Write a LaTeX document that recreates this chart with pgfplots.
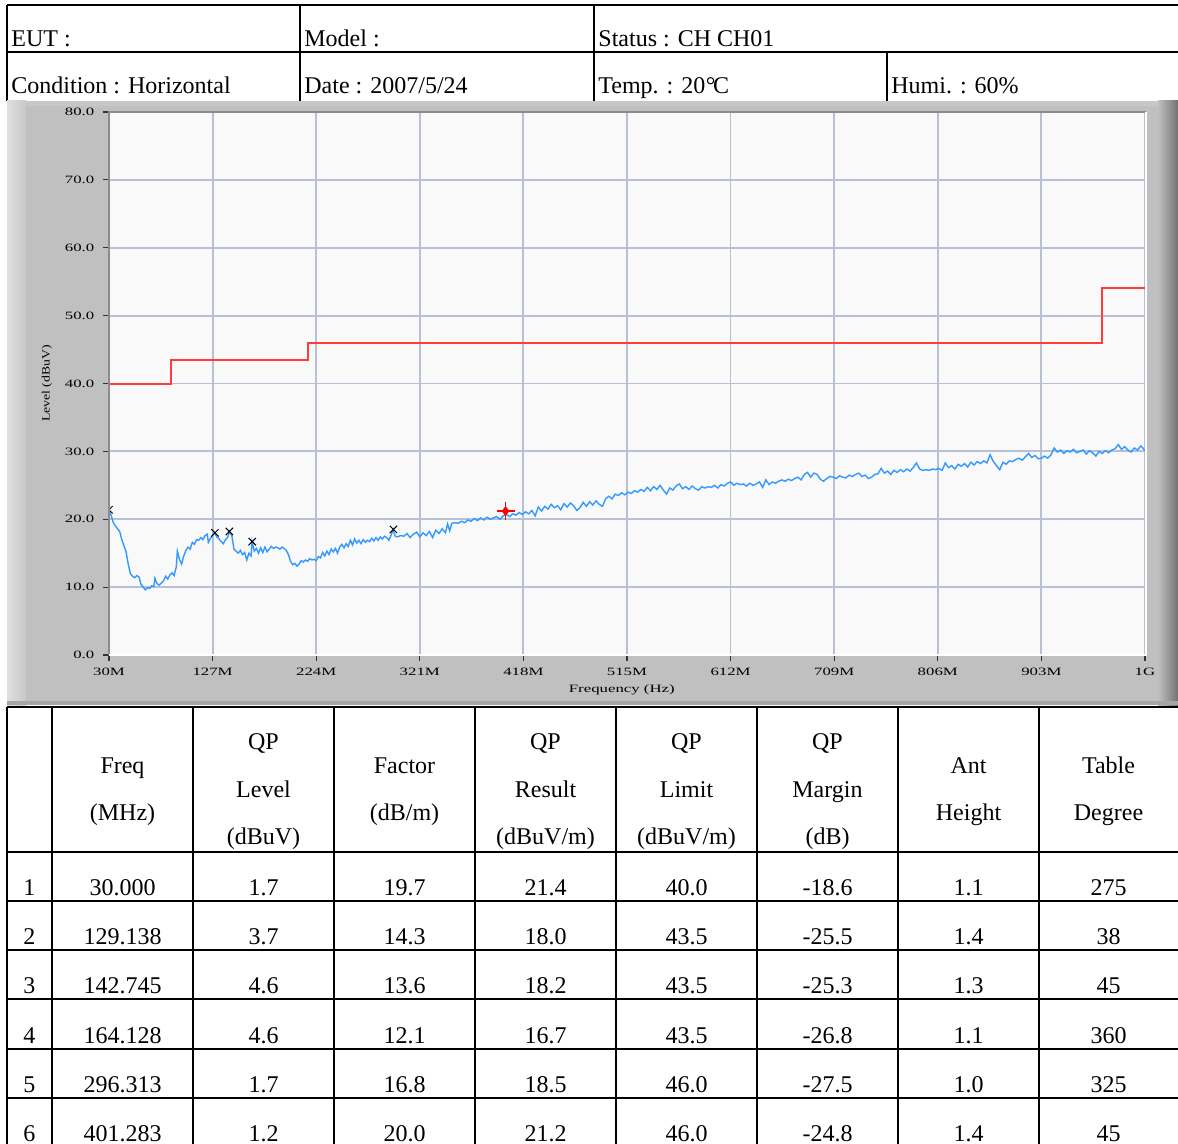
\documentclass[border=0pt]{standalone}
\usepackage{fontspec}
\setmainfont{Liberation Serif}
\newfontfamily\tickfont[FakeStretch=1.5]{Liberation Serif}
\newfontfamily\labfont[FakeStretch=1.23]{Liberation Serif}
\usepackage{pgfplots}
\pgfplotsset{compat=1.18}
\newcommand\tfont{\tickfont\fontsize{5.6}{6.5}\selectfont}
\newcommand\lfont{\labfont\fontsize{5.6}{6.5}\selectfont}
\definecolor{panel}{HTML}{C0C0C0}
\definecolor{plotbg}{HTML}{F9F9F9}
\definecolor{gridc}{HTML}{B8C0D6}
\definecolor{trace}{HTML}{3399FF}
\definecolor{limitc}{HTML}{FF3B3B}
\begin{document}
\begin{tikzpicture}[x=0.5pt,y=0.5pt,font=\fontsize{12}{14}\selectfont]
\useasboundingbox (0,0) rectangle (1178,-1144);
\clip (0,0) rectangle (1178,-1144);
\fill[white] (0,0) rectangle (1178,-1144);
% ---------- header table ----------
\draw[line width=1pt] (7,-5) -- (1178,-5);
\draw[line width=1pt] (7,-52) -- (1178,-52);
\draw[line width=1pt] (7,-5) -- (7,-101);
\draw[line width=1pt] (300,-5) -- (300,-101);
\draw[line width=1pt] (594,-5) -- (594,-101);
\draw[line width=1pt] (887,-52) -- (887,-101);
\node[anchor=base west,inner sep=0] at (11,-47) {EUT :};
\node[anchor=base west,inner sep=0] at (304,-47) {Model :};
\node[anchor=base west,inner sep=0] at (598,-47) {Status : CH CH01};
\node[anchor=base west,inner sep=0] at (11,-94) {Condition : Horizontal};
\node[anchor=base west,inner sep=0] at (304,-94) {Date : 2007/5/24};
\node[anchor=base west,inner sep=0] at (598,-94) {Temp. : 20\kern0.3pt\textdegree\kern-1.2pt C};
\node[anchor=base west,inner sep=0] at (891,-94) {Humi. : 60\%};
% ---------- panel ----------
\fill[panel] (7,-101) rectangle (1178,-705);
\fill[black!22] (7,-101) rectangle (1178,-106);
\shade[left color=black!12, right color=black!22] (7,-101) rectangle (26,-705);
\shade[left color=black!25, right color=black!55] (1158,-101) rectangle (1178,-705);
\fill[black!35] (7,-701) rectangle (1178,-705);
% ---------- chart ----------
\begin{axis}[
  at={(54.5pt,-327.5pt)}, anchor=south west,
  scale only axis, width=518pt, height=271.5pt,
  xmin=30, xmax=1000, ymin=0, ymax=80,
  axis background/.style={fill=plotbg},
  axis line style={draw=none},
  grid=major, major grid style={draw=gridc, line width=0.9pt},
  xtick={30,127,224,321,418,515,612,709,806,903,1000},
  xticklabels={30M,127M,224M,321M,418M,515M,612M,709M,806M,903M,1G},
  ytick={0,10,20,30,40,50,60,70,80},
  yticklabels={0.0,10.0,20.0,30.0,40.0,50.0,60.0,70.0,80.0},
  tick pos=left, tick align=outside, major tick length=3pt,
  tick style={draw=black!80, line width=0.6pt},
  ticklabel style={font=\tfont},
  yticklabel style={xshift=-0.8pt},
  xlabel={Frequency (Hz)}, ylabel={Level (dBuV)},
  xlabel style={font=\tfont, at={(axis description cs:0.495,-0.0645)}, anchor=center},
  ylabel style={font=\lfont, at={(axis description cs:-0.06,0.5)}, anchor=center},
  clip marker paths=true,
]
\addplot[limitc, line width=1pt] coordinates {(30,40)(88,40)(88,43.5)(216,43.5)(216,46)(960,46)(960,54)(1000,54)};
\addplot[trace, line width=0.7pt] table {
30 21.4
32 20.6
34 19.5
36 19.0
38 18.6
40 18.2
42 17.0
44 16.1
46 15.2
48 13.4
50 12.0
52 11.6
54 11.4
56 11.7
58 11.5
60 10.4
62 10.0
64 9.6
66 9.9
68 9.8
70 10.2
72 10.1
73 11.3
75 10.5
77 10.3
79 10.6
81 10.9
83 11.6
85 11.2
87 11.8
89 12.1
91 11.7
93 13.0
94 15.3
96 14.1
98 13.4
100 14.6
102 15.4
104 15.9
106 15.6
108 16.6
110 16.3
112 17.0
114 16.9
116 17.3
118 17.0
120 17.6
122 17.8
123 16.6
125 17.2
127 17.6
129 18.0
131 17.4
133 17.1
135 16.7
137 16.4
139 17.0
141 17.3
143 18.2
145 17.6
147 15.6
149 15.3
151 15.0
153 15.4
155 14.8
157 15.1
159 14.0
161 15.0
163 14.6
164 16.7
166 15.3
168 15.7
170 15.0
172 15.8
174 15.1
176 15.9
178 15.2
180 15.6
182 16.0
184 15.7
186 15.9
188 15.8
190 15.6
192 15.9
194 15.7
196 15.4
198 14.8
200 13.8
202 13.3
204 13.5
206 13.1
208 13.4
210 13.9
212 13.7
214 14.0
216 13.8
218 14.2
220 14.0
222 14.1
224 13.9
226 14.5
228 14.3
230 15.1
232 14.6
234 15.3
236 14.8
238 15.6
240 15.2
242 15.7
244 15.0
246 15.9
248 16.3
250 15.8
252 16.4
254 16.0
256 16.9
258 16.2
260 17.1
262 16.5
264 16.9
266 16.4
268 17.0
270 16.6
272 16.9
274 16.7
276 17.2
278 16.8
280 17.3
282 16.9
284 17.4
286 17.1
288 17.5
290 17.3
292 16.9
294 17.6
296 18.5
298 17.5
300 17.4
303 17.6
306 17.5
309 17.9
312 17.3
315 17.8
318 18.1
321 17.4
324 18.0
327 17.6
330 18.2
333 17.3
336 18.4
339 17.9
342 18.6
345 18.0
347 19.3
349 18.3
351 19.4
354 19.5
357 19.4
360 19.7
363 19.5
366 19.9
369 19.7
372 20.1
375 19.8
378 20.2
381 19.9
384 20.3
387 20.0
390 20.2
393 20.4
396 20.0
399 20.5
402 20.7
405 20.4
408 20.8
411 20.6
414 21.0
417 20.7
420 21.1
423 20.8
426 21.3
429 20.5
432 21.8
435 21.2
438 21.9
441 21.5
444 22.2
447 21.7
450 22.0
453 21.4
456 22.3
459 21.8
462 22.4
465 22.0
468 21.3
471 21.7
474 22.5
477 21.9
480 22.6
483 22.1
486 22.7
489 22.2
492 21.9
495 23.0
498 23.4
501 23.0
504 23.7
507 23.5
510 23.9
513 23.6
516 24.0
519 23.8
522 24.2
525 24.0
528 24.4
531 24.1
534 24.7
537 24.2
540 24.8
543 24.4
546 25.0
549 24.3
552 23.7
555 24.6
558 24.3
561 24.9
564 25.2
567 24.5
570 24.8
573 24.4
576 24.9
579 24.5
582 24.3
585 24.8
588 24.6
591 24.8
594 24.7
597 25.0
600 24.6
603 25.1
606 24.9
609 25.3
612 25.5
615 25.0
618 25.3
621 25.1
624 25.2
627 24.9
630 25.3
633 25.0
636 25.2
639 25.5
642 24.7
645 25.8
648 25.1
651 25.5
654 25.3
657 25.6
660 25.8
663 25.6
666 25.9
669 25.7
672 26.0
675 26.2
678 25.8
681 26.6
684 26.9
687 26.2
690 26.8
693 26.6
696 25.9
699 25.6
702 26.0
705 26.3
708 26.2
711 26.0
714 26.4
717 26.2
720 26.1
723 26.5
726 26.3
729 26.6
732 26.8
735 26.3
738 26.5
741 26.0
744 26.2
747 26.6
750 26.7
753 27.5
756 26.8
759 27.1
762 26.6
765 27.2
768 26.9
771 27.3
774 27.0
777 27.4
780 27.1
783 27.6
786 28.3
789 27.4
792 27.2
795 27.3
798 27.2
801 27.4
804 27.3
807 27.5
810 27.2
813 28.3
816 27.6
819 27.9
822 27.4
825 28.1
828 27.8
831 28.2
834 27.7
837 28.4
840 28.0
843 28.5
846 28.2
849 28.6
852 28.3
855 29.5
858 28.5
861 27.9
864 27.3
867 28.4
870 28.1
873 28.6
876 28.5
879 28.8
882 29.0
885 28.7
888 29.2
891 29.7
894 29.1
897 29.4
900 28.9
903 29.0
906 29.3
909 29.0
912 29.5
915 30.5
918 29.9
921 30.2
924 29.7
927 30.1
930 29.9
933 30.3
936 29.8
939 30.0
942 30.2
945 29.6
948 30.1
951 29.8
954 29.3
957 30.0
960 29.7
963 30.1
966 29.8
969 30.2
972 30.4
975 31.0
978 30.3
981 30.7
984 30.2
987 29.9
990 30.5
993 30.2
996 30.8
998 30.5
1000 30.1
};
\addplot[only marks, mark=x, mark size=2.6pt, black, line width=0.5pt] coordinates {(30,21.4)(129.138,18.0)(142.745,18.2)(164.128,16.7)(296.313,18.5)};
\addplot[only marks, mark=diamond*, mark size=2.2pt, red, mark options={fill=red}] coordinates {(401.283,21.2)};
\addplot[only marks, mark=+, mark size=4.5pt, red, line width=0.9pt] coordinates {(401.283,21.2)};
\end{axis}
\draw[line width=1pt, draw=black!45] (109,-655) -- (109,-112) -- (1146,-112);
\draw[line width=1pt, white] (109,-655) -- (1146,-655) -- (1146,-112);
% ---------- bottom table ----------
\foreach \yy in {707,852,901,950,999,1049,1098} {\draw[line width=1.3pt] (7,-\yy) -- (1178,-\yy);}
\foreach \xx in {7,52,193,334,475,616,757,898,1039} {\draw[line width=1.3pt] (\xx,-707) -- (\xx,-1144);}
\node[anchor=base] at (122.5,-773) {Freq};
\node[anchor=base] at (122.5,-820) {(MHz)};
\node[anchor=base] at (263.5,-749) {QP};
\node[anchor=base] at (263.5,-797) {Level};
\node[anchor=base] at (263.5,-844) {(dBuV)};
\node[anchor=base] at (404.5,-773) {Factor};
\node[anchor=base] at (404.5,-820) {(dB/m)};
\node[anchor=base] at (545.5,-749) {QP};
\node[anchor=base] at (545.5,-797) {Result};
\node[anchor=base] at (545.5,-844) {(dBuV/m)};
\node[anchor=base] at (686.5,-749) {QP};
\node[anchor=base] at (686.5,-797) {Limit};
\node[anchor=base] at (686.5,-844) {(dBuV/m)};
\node[anchor=base] at (827.5,-749) {QP};
\node[anchor=base] at (827.5,-797) {Margin};
\node[anchor=base] at (827.5,-844) {(dB)};
\node[anchor=base] at (968.5,-773) {Ant};
\node[anchor=base] at (968.5,-820) {Height};
\node[anchor=base] at (1108.5,-773) {Table};
\node[anchor=base] at (1108.5,-820) {Degree};
\foreach \n/\a/\b/\c/\d/\e/\f/\g/\h/\yy in {
 1/30.000/1.7/19.7/21.4/40.0/-18.6/1.1/275/895,
 2/129.138/3.7/14.3/18.0/43.5/-25.5/1.4/38/944,
 3/142.745/4.6/13.6/18.2/43.5/-25.3/1.3/45/993,
 4/164.128/4.6/12.1/16.7/43.5/-26.8/1.1/360/1043,
 5/296.313/1.7/16.8/18.5/46.0/-27.5/1.0/325/1092,
 6/401.283/1.2/20.0/21.2/46.0/-24.8/1.4/45/1141} {
 \node[anchor=base] at (29.5,-\yy) {\n};
 \node[anchor=base] at (122.5,-\yy) {\a};
 \node[anchor=base] at (263.5,-\yy) {\b};
 \node[anchor=base] at (404.5,-\yy) {\c};
 \node[anchor=base] at (545.5,-\yy) {\d};
 \node[anchor=base] at (686.5,-\yy) {\e};
 \node[anchor=base] at (827.5,-\yy) {\f};
 \node[anchor=base] at (968.5,-\yy) {\g};
 \node[anchor=base] at (1108.5,-\yy) {\h};
}
\end{tikzpicture}
\end{document}
